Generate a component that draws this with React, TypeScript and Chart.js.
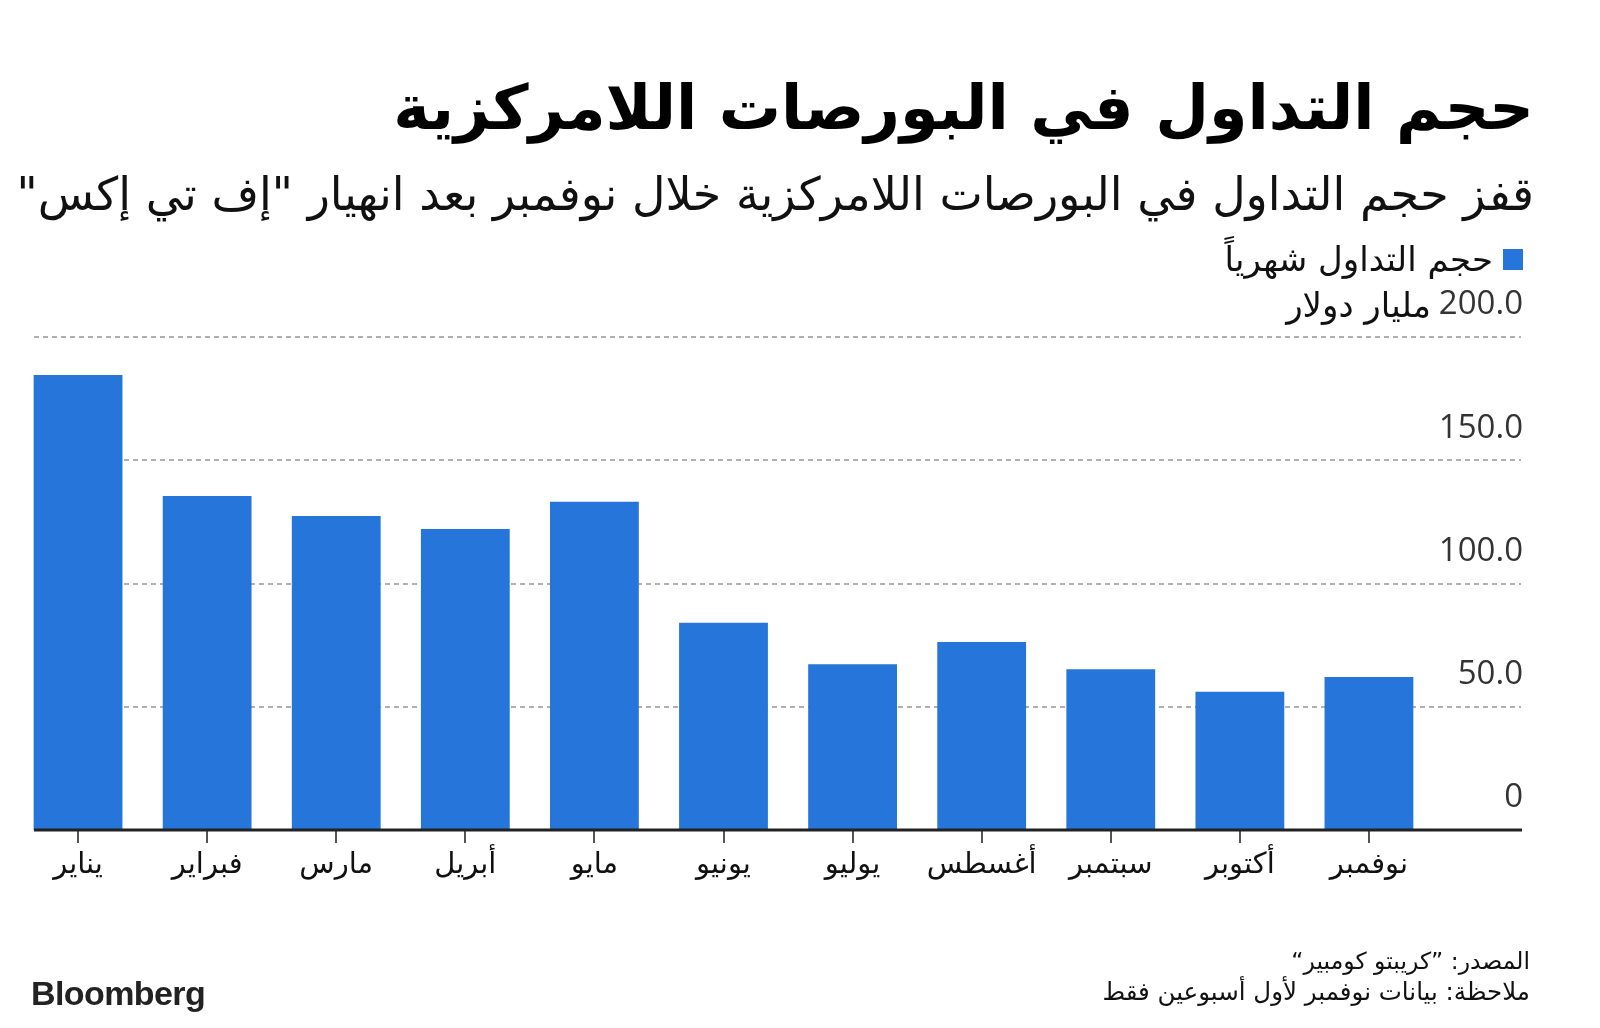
import React, { useEffect, useRef } from "react";
import { Chart, registerables } from "chart.js";

Chart.register(...registerables);

// ---------- data ----------
const months = ["يناير", "فبراير", "مارس", "أبريل", "مايو", "يونيو", "يوليو", "أغسطس", "سبتمبر", "أكتوبر", "نوفمبر"];
const volumes = [184.6, 135.5, 127.4, 122.1, 133.2, 84.1, 67.2, 76.3, 65.2, 56.1, 62.1];
const yTickValues = [0, 50, 100, 150, 200];
const yTickLabels = ["0", "50.0", "100.0", "150.0", "200.0"];
const unitLabel = "مليار دولار";
const seriesName = "حجم التداول شهرياً";
const titleText = "حجم التداول في البورصات اللامركزية";
const subtitleText = 'قفز حجم التداول في البورصات اللامركزية خلال نوفمبر بعد انهيار "إف تي إكس"';
const sourceText = "المصدر: ”كريبتو كومبير“";
const noteText = "ملاحظة: بيانات نوفمبر لأول أسبوعين فقط";

// ---------- style ----------
const BLUE = "#2575da";
const ARABIC = "'DejaVu Sans', sans-serif";
const NUM = "'Open Sans', 'DejaVu Sans', sans-serif";
const GRID_LEFT = 34;
const GRID_RIGHT = 1521;
const Y_LABEL_OFFSET = -32;
const Y_FONT_SIZE = 33;

const gridPlugin = {
  id: "customGrid",
  beforeDatasetsDraw(chart: any) {
    const y = chart.scales.y;
    const ctx = chart.ctx;
    ctx.save();
    ctx.strokeStyle = "#b0b0b0";
    ctx.lineWidth = 2;
    ctx.setLineDash([5, 4]);
    for (const v of yTickValues) {
      if (v === 0) continue;
      const py = Math.round(y.getPixelForValue(v));
      ctx.beginPath();
      ctx.moveTo(GRID_LEFT, py);
      ctx.lineTo(GRID_RIGHT, py);
      ctx.stroke();
    }
    ctx.restore();
  },
  afterDatasetsDraw(chart: any) {
    const y = chart.scales.y;
    const ctx = chart.ctx;
    const py = y.getPixelForValue(0);
    ctx.save();
    ctx.strokeStyle = "#222";
    ctx.lineWidth = 3;
    ctx.beginPath();
    ctx.moveTo(GRID_LEFT, py);
    ctx.lineTo(GRID_RIGHT + 1, py);
    ctx.stroke();
    ctx.restore();
  },
  afterDraw(chart: any) {
    // unit text to the left of the top tick label of the y axis
    const y = chart.scales.y;
    const ctx = chart.ctx;
    const topVal = yTickValues[yTickValues.length - 1];
    const topLbl = yTickLabels[yTickLabels.length - 1];
    ctx.save();
    ctx.font = `${Y_FONT_SIZE}px ${NUM}`;
    const w = ctx.measureText(topLbl).width;
    ctx.font = `34px ${ARABIC}`;
    ctx.fillStyle = "#111";
    ctx.direction = "rtl";
    ctx.textAlign = "right";
    ctx.textBaseline = "middle";
    ctx.fillText(unitLabel, y.right - w - 8, y.getPixelForValue(topVal) + Y_LABEL_OFFSET + 3);
    ctx.restore();
  },
};

function BarChart() {
  const ref = useRef<HTMLCanvasElement | null>(null);
  useEffect(() => {
    if (!ref.current) return;
    const chart = new Chart(ref.current, {
      type: "bar",
      data: {
        labels: months,
        datasets: [
          {
            label: seriesName,
            data: volumes,
            backgroundColor: BLUE,
            borderWidth: 0,
            categoryPercentage: 1,
            barPercentage: 0.688,
          },
        ],
      },
      plugins: [gridPlugin],
      options: {
        animation: false,
        responsive: true,
        maintainAspectRatio: false,
        layout: { padding: { left: 13.5, right: 77, top: 337, bottom: 138 } },
        plugins: {
          legend: { display: false },
          tooltip: { enabled: false },
          title: { display: false },
        },
        scales: {
          x: {
            type: "category",
            offset: true,
            border: { display: false },
            grid: {
              display: true,
              offset: false,
              drawOnChartArea: false,
              drawTicks: true,
              tickLength: 13,
              color: "#555",
              lineWidth: 2,
            },
            ticks: {
              color: "#111",
              font: { family: ARABIC, size: 29 },
              padding: 5,
              maxRotation: 0,
              autoSkip: false,
            },
            afterFit(scale: any) {
              scale.height = 60;
            },
          },
          y: {
            position: "right",
            min: 0,
            max: 200,
            border: { display: false },
            grid: { display: false, drawTicks: false },
            afterBuildTicks(scale: any) {
              scale.ticks = yTickValues.map((v) => ({ value: v }));
            },
            afterFit(scale: any) {
              scale.width = 89.5;
            },
            ticks: {
              color: "#333",
              font: { family: NUM, size: Y_FONT_SIZE },
              crossAlign: "far",
              padding: 0,
              labelOffset: Y_LABEL_OFFSET,
              callback: (value: any) => {
                const i = yTickValues.indexOf(Number(value));
                return i >= 0 ? yTickLabels[i] : String(value);
              },
            },
          },
        },
      },
    });
    return () => chart.destroy();
  }, []);
  return (
    <div style={{ position: "absolute", left: 0, top: 0, width: 1600, height: 1028 }}>
      <canvas ref={ref} />
    </div>
  );
}

export default function App() {
  const abs: React.CSSProperties = { position: "absolute", whiteSpace: "nowrap", direction: "rtl" };
  return (
    <div style={{ position: "absolute", left: 0, top: 0, width: 1600, height: 1028, background: "#fff", overflow: "hidden" }}>
      <BarChart />
      <div style={{ ...abs, right: 66, top: 68, fontFamily: ARABIC, fontWeight: 700, fontSize: 62, lineHeight: "80px", color: "#000" }}>
        {titleText}
      </div>
      <div style={{ ...abs, right: 66, top: 164, fontFamily: ARABIC, fontSize: 46, lineHeight: "60px", color: "#111" }}>
        {subtitleText}
      </div>
      <div style={{ position: "absolute", left: 1503, top: 249, width: 20, height: 21, background: BLUE }} />
      <div style={{ ...abs, right: 1600 - 1493, top: 237, fontFamily: ARABIC, fontSize: 34, lineHeight: "44px", color: "#111" }}>
        {seriesName}
      </div>
      <div style={{ ...abs, right: 70, top: 945, fontFamily: ARABIC, fontSize: 23.5, lineHeight: "32px", color: "#111" }}>
        {sourceText}
      </div>
      <div style={{ ...abs, right: 70, top: 976, fontFamily: ARABIC, fontSize: 24.5, lineHeight: "32px", color: "#111" }}>
        {noteText}
      </div>
      <div style={{ position: "absolute", left: 31, top: 973, fontFamily: "'Liberation Sans', Arial, sans-serif", fontWeight: 700, fontSize: 34, lineHeight: "40px", letterSpacing: -0.6, color: "#222" }}>
        Bloomberg
      </div>
    </div>
  );
}
